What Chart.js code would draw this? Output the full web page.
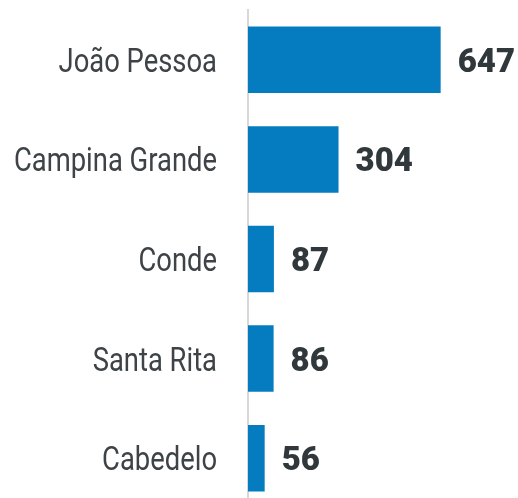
<!DOCTYPE html>
<html>
<head>
<meta charset="utf-8">
<script src="https://cdn.jsdelivr.net/npm/chart.js@4.4.1/dist/chart.umd.min.js"></script>
<style>
  html, body { margin: 0; padding: 0; overflow: hidden; background: #fff; }
  canvas { display: block; }
</style>
</head>
<body>
<canvas id="barChart" width="518" height="508"></canvas>
<script>
var cities = ['João Pessoa', 'Campina Grande', 'Conde', 'Santa Rita', 'Cabedelo'];
var counts = [647, 304, 87, 86, 56];

// city names (narrowed Roboto) and values next to the bars
var barText = {
    id: 'barText',
    afterDraw: function (chart) {
        var ctx = chart.ctx;
        var yScale = chart.scales.y;
        var meta = chart.getDatasetMeta(0);
        ctx.save();
        ctx.font = '33px Roboto, sans-serif';
        ctx.fillStyle = '#3d4347';
        ctx.textAlign = 'right';
        ctx.textBaseline = 'alphabetic';
        cities.forEach(function (name, i) {
            var y = yScale.getPixelForTick(i);
            ctx.save();
            ctx.translate(yScale.right - 31, y + 12);
            ctx.scale(0.83, 1);
            ctx.fillText(name, 0, 0);
            ctx.restore();
        });

        ctx.font = '900 33px Roboto, sans-serif';
        ctx.fillStyle = '#31383c';
        ctx.textAlign = 'left';
        meta.data.forEach(function (bar, i) {
            ctx.fillText(counts[i], bar.x + 17, bar.y + 12);
        });
        ctx.restore();
    }
};

var ctx = document.getElementById('barChart').getContext('2d');
var myChart = new Chart(ctx, {
    type: 'bar',
    data: {
        labels: cities,
        datasets: [{
            data: counts,
            backgroundColor: '#047cbf',
            borderWidth: 0,
            barPercentage: 0.668,
            categoryPercentage: 1
        }]
    },
    options: {
        indexAxis: 'y',
        responsive: false,
        animation: false,
        layout: { padding: { top: 10, right: 2, bottom: 0, left: 0 } },
        plugins: {
            legend: { display: false },
            tooltip: { enabled: false }
        },
        scales: {
            x: {
                display: false,
                min: 0,
                max: 900
            },
            y: {
                afterFit: function (scale) { scale.width = 248; },
                grid: { display: false, drawTicks: false },
                border: { display: true, color: '#d8d8d8', width: 2 },
                ticks: { display: false }
            }
        }
    },
    plugins: [barText]
});
</script>
</body>
</html>
